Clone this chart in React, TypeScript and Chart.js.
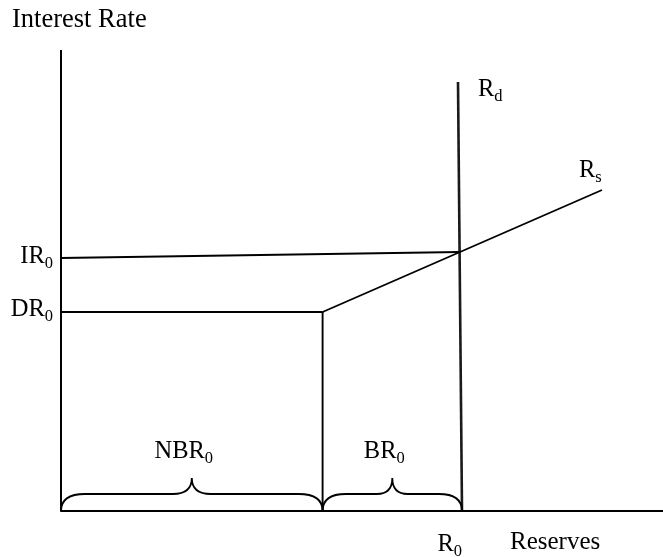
import React, { useEffect, useRef } from "react";
import { Chart, registerables } from "chart.js";

Chart.register(...registerables);

// Diagram values (abstract units: reserves on x, interest rate on y)
const axisYTop = 115.25;
const axisXEnd = 152;
const rsX = [65.4, 99.75, 135.25];
const rsY = [49.75, 64.75, 80.25];
const rdX = [99.25, 100.25];
const rdY = [107.25, 0];
const irX = [0, 99.75];
const irY = [63.25, 64.75];
const drX = [0, 65.4];
const drY = [49.75, 49.75];
const nbrX = [65.4, 65.4];
const nbrY = [49.75, 0];
const braceStarts = [0, 65.4];
const braceEnds = [65.4, 100.25];
const braceLabels = ["NBR", "BR"];
const R0 = 100.25;

const FONT = "'Liberation Serif', 'Times New Roman', serif";

const pts = (xs: number[], ys: number[]) => xs.map((x, i) => ({ x, y: ys[i] }));

function drawSub(ctx: CanvasRenderingContext2D, main: string, sub: string, x: number, y: number, align: "left" | "right" | "center") {
  ctx.font = `24.5px ${FONT}`;
  const wm = ctx.measureText(main).width;
  ctx.font = `16.5px ${FONT}`;
  const ws = ctx.measureText(sub).width;
  const total = wm + ws;
  let left = x;
  if (align === "right") left = x - total;
  if (align === "center") left = x - total / 2;
  ctx.textAlign = "left";
  ctx.textBaseline = "alphabetic";
  ctx.font = `24.5px ${FONT}`;
  ctx.fillText(main, left, y);
  ctx.font = `16.5px ${FONT}`;
  ctx.fillText(sub, left + wm, y + 5);
}

const labelPlugin = {
  id: "labels",
  afterDatasetsDraw(chart: any) {
    const ctx: CanvasRenderingContext2D = chart.ctx;
    const xs = chart.scales.x;
    const ys = chart.scales.y;
    const px = (v: number) => xs.getPixelForValue(v);
    const py = (v: number) => ys.getPixelForValue(v);
    ctx.save();
    ctx.fillStyle = "#000";
    ctx.strokeStyle = "#000";

    // braces
    ctx.lineWidth = 1.8;
    const base = py(0);
    braceStarts.forEach((s, i) => {
      const x1 = px(s);
      const x2 = px(braceEnds[i]);
      const mid = (x1 + x2) / 2;
      const yf = base - 17;
      const tip = base - 33;
      const c = Math.min(24, (x2 - x1) / 6);
      const t = Math.min(19, (x2 - x1) / 9);
      ctx.beginPath();
      ctx.moveTo(x1, base);
      ctx.quadraticCurveTo(x1, yf, x1 + c, yf);
      ctx.lineTo(mid - t, yf);
      ctx.quadraticCurveTo(mid, yf, mid, tip);
      ctx.quadraticCurveTo(mid, yf, mid + t, yf);
      ctx.lineTo(x2 - c, yf);
      ctx.quadraticCurveTo(x2, yf, x2, base);
      ctx.stroke();
      drawSub(ctx, braceLabels[i], "0", mid - 8, base - 53, "center");
    });

    // axis titles
    ctx.textAlign = "left";
    ctx.textBaseline = "alphabetic";
    ctx.font = `26.5px ${FONT}`;
    ctx.fillText("Interest Rate", px(0) - 49, py(axisYTop) - 23);
    ctx.font = `25px ${FONT}`;
    ctx.fillText("Reserves", px(R0) + 48, base + 38);

    drawSub(ctx, "IR", "0", px(0) - 8, py(irY[0]) + 5, "right");
    drawSub(ctx, "DR", "0", px(0) - 8, py(drY[0]) + 4, "right");
    drawSub(ctx, "R", "d", px(rdX[0]) + 20, py(rdY[0]) + 14, "left");
    drawSub(ctx, "R", "s", px(rsX[2]) - 23, py(rsY[2]) - 13, "left");
    drawSub(ctx, "R", "0", px(R0), base + 40, "right");
    ctx.restore();
  },
};

export default function App() {
  const ref = useRef<HTMLCanvasElement>(null);
  useEffect(() => {
    if (!ref.current) return;
    const line = (data: any, w = 1.9, color = "#000") => ({
      data,
      borderColor: color,
      borderWidth: w,
      pointRadius: 0,
      showLine: true,
      fill: false,
      tension: 0,
      clip: false as any,
    });
    const chart = new Chart(ref.current, {
      type: "scatter",
      data: {
        datasets: [
          line(pts([0, 0], [0, axisYTop]), 2),
          line(pts([-0.2, axisXEnd], [0, 0]), 2),
          line(pts(irX, irY)),
          line(pts(drX, drY)),
          line(pts(nbrX, nbrY)),
          line(pts(rsX, rsY)),
          line(pts(rdX, rdY), 2.6, "#1a1a1a"),
        ] as any,
      },
      options: {
        responsive: false,
        animation: false,
        devicePixelRatio: 1,
        layout: { padding: 0 },
        plugins: { legend: { display: false }, tooltip: { enabled: false }, title: { display: false } },
        events: [],
        scales: {
          x: { type: "linear", display: false, min: -61 / 4, max: 602 / 4 },
          y: { type: "linear", display: false, min: -46 / 4, max: 511 / 4 },
        },
      },
      plugins: [labelPlugin],
    });
    return () => chart.destroy();
  }, []);
  return (
    <div style={{ position: "fixed", left: 0, top: 0, width: 663, height: 557, background: "#fff" }}>
      <canvas ref={ref} width={663} height={557} style={{ display: "block" }} />
    </div>
  );
}
